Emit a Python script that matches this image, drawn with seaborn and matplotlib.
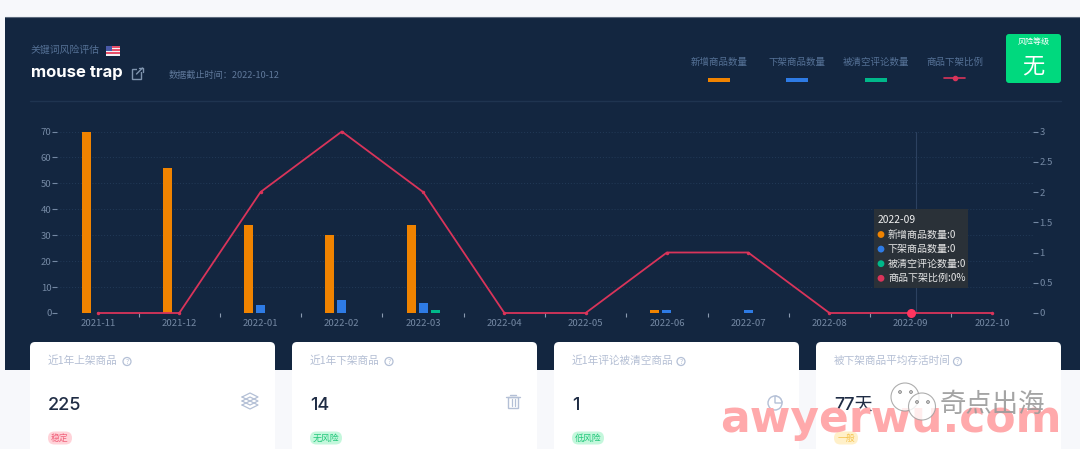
import numpy as np
import pandas as pd
import seaborn as sns
import matplotlib
matplotlib.use("Agg")
import matplotlib.pyplot as plt
from matplotlib.patches import FancyBboxPatch, Rectangle, Circle, Wedge

months = ["2021-11", "2021-12", "2022-01", "2022-02", "2022-03", "2022-04",
          "2022-05", "2022-06", "2022-07", "2022-08", "2022-09", "2022-10"]
new_items = [70, 56, 34, 30, 34, 0, 0, 1, 0, 0, 0, 0]
removed_items = [0, 0, 3, 5, 4, 0, 0, 1, 1, 0, 0, 0]
cleared_reviews = [0, 0, 0, 0, 1, 0, 0, 0, 0, 0, 0, 0]
removed_ratio = [0, 0, 2, 3, 2, 0, 0, 1, 1, 0, 0, 0]
series_names = ["新增商品数量", "下架商品数量", "被清空评论数量", "商品下架比例"]
series_colors = ["#f08300", "#2e7be5", "#00b88a", "#d9345a"]
left_ticks = [0, 10, 20, 30, 40, 50, 60, 70]
right_ticks = [0, 0.5, 1, 1.5, 2, 2.5, 3]
right_labels = ["0", "0.5", "1", "1.5", "2", "2.5", "3"]
card_titles = ["近1年上架商品", "近1年下架商品", "近1年评论被清空商品", "被下架商品平均存活时间"]
card_values = ["225", "14", "1", "77天"]
card_badges = ["稳定", "无风险", "低风险", "一般"]

sns.set_theme(style="white")
plt.rcParams["font.family"] = ["Noto Sans CJK SC", "DejaVu Sans"]
W, H = 1080, 449
fig = plt.figure(figsize=(W / 100, H / 100), dpi=100, facecolor="#f7f8fb")

# page layer, in pixel coordinates
bg = fig.add_axes([0, 0, 1, 1], zorder=0)
bg.set_xlim(0, W); bg.set_ylim(H, 0); bg.axis("off")
PANEL = "#132640"
bg.add_patch(FancyBboxPatch((215, -12), 660, 12, boxstyle="round,pad=0,rounding_size=8", fc="#ffffff", ec="none"))
bg.add_patch(Rectangle((5, 17), 1075, 353, fc=PANEL, ec="none"))
bg.plot([5, 1080], [17.3, 17.3], color="#5d6b7d", lw=0.8)
bg.plot([30, 1061], [100.5, 100.5], color="#1f3450", lw=1)

MUTED = "#557196"
bg.text(30, 50, "关键词风险评估", color=MUTED, fontsize=7.1, va="center")
bg.text(31, 72, "mouse trap", color="#ffffff", fontsize=12, fontweight="bold", va="center", family=["Inter", "DejaVu Sans"])
bg.text(169, 75, "数据截止时间：2022-10-12", color="#5f789a", fontsize=6.6, va="center")

# flag
bg.add_patch(Rectangle((105.5, 46), 14, 10, fc="#f2f2f4", ec="none"))
for yy in (46, 49.2, 52.4):
    bg.add_patch(Rectangle((105.5, yy), 14, 1.7, fc="#e8506a", ec="none"))
bg.add_patch(Rectangle((105.5, 46), 6.5, 5, fc="#4a5aa8", ec="none"))

# external link icon
bg.add_patch(Rectangle((132, 69), 9, 10, fc="none", ec="#7f94ae", lw=1))
bg.add_patch(Rectangle((137, 66), 6, 6, fc=PANEL, ec="none"))
bg.plot([136.5, 142.5], [74, 68], color="#7f94ae", lw=1)
bg.plot([138.5, 142.5, 142.5], [68, 68, 72], color="#7f94ae", lw=1)

# legend
legend_centers = [719, 797, 876, 954.5]
for name, col, cx in zip(series_names, series_colors, legend_centers):
    bg.text(cx, 62.5, name, color=MUTED, fontsize=6.8, ha="center", va="center")
    if name == series_names[-1]:
        bg.plot([cx - 10.5, cx + 10.5], [78, 78], color=col, lw=1.2)
        bg.plot([cx], [78], "o", color=col, ms=3)
    else:
        bg.add_patch(Rectangle((cx - 11, 78), 22, 3.6, fc=col, ec="none"))

# risk badge
bg.add_patch(FancyBboxPatch((1006, 34), 55, 49, boxstyle="round,pad=0,rounding_size=3", fc="#00d97e", ec="none"))
bg.text(1033.5, 41.5, "风险等级", color="#ffffff", fontsize=5.8, ha="center", va="center")
bg.text(1033.5, 66, "无", color="#ffffff", fontsize=16, ha="center", va="center")

# cards
card_x = [30, 292, 554, 816]
badge_w = [24, 32, 32, 24]
badge_fc = ["#ffd3d9", "#c4f7dc", "#c4f7dc", "#fff0c9"]
badge_tc = ["#f0607a", "#23c77b", "#23c77b", "#f5c451"]
help_x = [127, 389, 681, 957.5]
ICON = "#b4c0d6"
for i, x0 in enumerate(card_x):
    bg.add_patch(FancyBboxPatch((x0, 342), 245, 130, boxstyle="round,pad=0,rounding_size=5", fc="#ffffff", ec="none"))
    bg.text(x0 + 17.5, 361, card_titles[i], color="#b4bfd4", fontsize=7.7, va="center")
    bg.add_patch(Circle((help_x[i], 361.5), 4, fc="none", ec=ICON, lw=0.9))
    bg.text(help_x[i], 361.5, "?", color=ICON, fontsize=5, ha="center", va="center")
    bg.text(x0 + 18, 405, card_values[i], color="#1f2c44", fontsize=13, fontweight="medium", va="center", family=["Inter", "Noto Sans CJK SC"])
    bg.add_patch(FancyBboxPatch((x0 + 18, 431.5), badge_w[i], 13, boxstyle="round,pad=0,rounding_size=6.5", fc=badge_fc[i], ec="none"))
    bg.text(x0 + 18 + badge_w[i] / 2, 438, card_badges[i], color=badge_tc[i], fontsize=6.4, ha="center", va="center")

# layers icon
for dy in (0, 4, 8):
    bg.plot([242, 250, 258, 250, 242], [397 + dy, 393 + dy, 397 + dy, 401 + dy, 397 + dy], color=ICON, lw=0.9)
# trash icon
bg.add_patch(Rectangle((508, 397), 10, 11, fc="none", ec=ICON, lw=1))
bg.plot([506, 520], [396.5, 396.5], color=ICON, lw=1)
bg.plot([510, 516], [394.5, 394.5], color=ICON, lw=1)
for xx in (511.5, 514.5):
    bg.plot([xx, xx], [399, 406], color=ICON, lw=0.9)
# pie icon
bg.add_patch(Circle((775, 403), 7, fc="none", ec=ICON, lw=1))
bg.add_patch(Wedge((775, 403), 7, 270, 360, fc="#ffffff", ec=ICON, lw=1))

# chart
ax = fig.add_axes([57.4 / W, 1 - 313 / H, (1032.6 - 57.4) / W, (313 - 131.5) / H], zorder=1)
ax.patch.set_alpha(0)
long_df = pd.DataFrame({
    "month": months * 3,
    "value": new_items + removed_items + cleared_reviews,
    "series": np.repeat(series_names[:3], len(months)),
})
sns.barplot(data=long_df, x="month", y="value", hue="series", order=months,
            hue_order=series_names[:3], palette=series_colors[:3], width=0.443,
            gap=0.25, saturation=1, legend=False, ax=ax, zorder=3)
for patch in ax.patches:
    patch.set_edgecolor("none")
ax.set_xlim(-0.5, len(months) - 0.5)
ax.set_ylim(0, 70)
ax.set_xlabel(""); ax.set_ylabel("")
ax.set_yticks(left_ticks)
TICK = "#7488a3"
ax.tick_params(axis="y", left=True, length=3.5, width=0.8, color=TICK, labelcolor=TICK, labelsize=6.9, pad=0.8)
ax.tick_params(axis="x", which="major", bottom=False, labelcolor=TICK, labelsize=6.9, pad=-1.6)
ax.set_xticks(np.arange(0.5, len(months) - 1), minor=True)
ax.tick_params(axis="x", which="minor", bottom=True, length=3, width=0.8, color="#8a9ab0")
ax.grid(axis="y", linestyle=(0, (1, 2)), color="#223a58", lw=0.7, zorder=0)
ax.set_axisbelow(True)
for s in ax.spines.values():
    s.set_visible(False)

pointer_x = 10.06
ax.axvline(pointer_x, color="#2c4160", lw=0.8, zorder=1)

ax2 = ax.twinx()
ax2.set_zorder(2); ax2.patch.set_alpha(0)
ax2.grid(False)
sns.lineplot(x=np.arange(len(months)), y=removed_ratio, ax=ax2, color=series_colors[3],
             lw=1.3, marker="o", ms=2.5, mew=0, errorbar=None, clip_on=False)
ax2.plot([10], [removed_ratio[10]], "o", color="#ff3560", ms=6.5, mew=0, clip_on=False, zorder=6)
ax2.set_ylim(0, 3)
ax2.set_xlim(-0.5, len(months) - 0.5)
ax2.set_yticks(right_ticks)
ax2.set_yticklabels(right_labels)
ax2.set_ylabel("")
ax2.tick_params(axis="y", right=True, length=3.5, width=0.8, color=TICK, labelcolor=TICK, labelsize=6.9, pad=1.5)
for s in ax2.spines.values():
    s.set_visible(False)

# overlay: tooltip and watermark
ov = fig.add_axes([0, 0, 1, 1], zorder=3)
ov.set_xlim(0, W); ov.set_ylim(H, 0); ov.axis("off"); ov.patch.set_alpha(0)
ov.add_patch(Rectangle((874, 209), 94, 79, fc="#2b3238", ec="none", alpha=0.97))
ov.text(877.5, 220, months[10], color="#f2f2f2", fontsize=7.4, va="center")
for k, (name, col, val) in enumerate(zip(series_names, series_colors,
                                         [f"{new_items[10]}", f"{removed_items[10]}", f"{cleared_reviews[10]}", f"{removed_ratio[10]}%"])):
    yy = 234.5 + k * 14.6
    ov.add_patch(Circle((881, yy), 3.4, fc=col, ec="none"))
    ov.text(888, yy, f"{name}:{val}", color="#e8e8e8", fontsize=7.2, va="center")

ov.text(720, 432, "awyerwu.com", color="#ffa9ab", fontsize=31.7, fontweight="bold", va="baseline", family=["DejaVu Sans"], zorder=2)
ov.add_patch(Circle((905, 397), 14, fc="#ffffff", ec="#9a9a9a", lw=0.8, alpha=0.8, zorder=3))
ov.add_patch(Circle((922, 406.5), 13.5, fc="#ffffff", ec="#9a9a9a", lw=0.8, alpha=0.8, zorder=3))
for ex, ey in ((900, 392), (911, 392), (917, 402), (928, 402)):
    ov.add_patch(Circle((ex, ey), 1.3, fc="none", ec="#777777", lw=0.7, zorder=4))
ov.text(940, 404, "奇点出海", color="#9a9a9a", fontsize=19, fontweight="light", va="center", zorder=4, alpha=0.9)

fig.savefig("out.png", dpi=100, facecolor=fig.get_facecolor())
